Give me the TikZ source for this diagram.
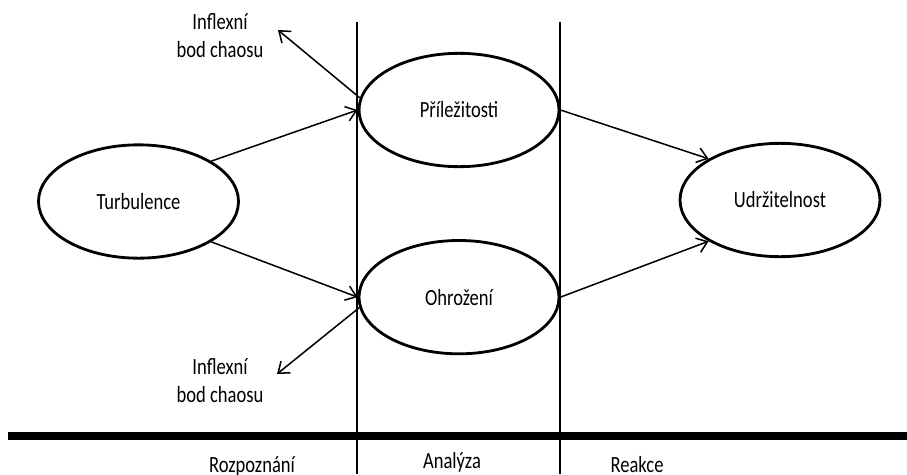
\documentclass[tikz,border=0pt]{standalone}
\usepackage{fontspec}
\setmainfont{Carlito}[FakeStretch=0.8]
\newcommand*{\diagfont}{\fontsize{19.8}{23.8}\selectfont}
\usetikzlibrary{arrows.meta, positioning, shapes.geometric}
\tikzstyle{state} = [draw, ellipse, line width=2.4pt, minimum width=6cm, minimum height=3.4cm, font=\diagfont]
\tikzstyle{note} = [align=center, inner sep=0pt, font=\diagfont]
\tikzstyle{phase} = [anchor=base, inner sep=0pt, font=\diagfont]
\tikzstyle{link} = [-{Straight Barb[length=3mm, width=4.5mm]}, line width=1.3pt]
\tikzstyle{divider} = [line width=2.5pt]
\tikzstyle{ground} = [line width=6.8pt]

\begin{document}
\begin{tikzpicture}[x=0.03cm, y=-0.03cm, node distance=2.13cm]
    \useasboundingbox (0, 0) rectangle (907, 474);

    % Dividers.
    \foreach \x in {357, 560} {%
        \draw [divider] (\x, 22) -- (\x, 474);
    }
    \draw [ground] (8, 436) -- (907, 436);

    % Nodes.
    \node (prilezitosti) [state] at (459, 110) {Příležitosti};
    \node (ohrozeni) [state, below=of prilezitosti] {Ohrožení};
    \node (turbulence) [state] at (138.5, 201.5) {Turbulence};
    \node (udrzitelnost) [state] at (780, 200) {Udržitelnost};

    % Notes.
    \node (chaos top) [note] at (220, 36) {Inflexní\\bod chaosu};
    \node (chaos bottom) [note] at (220, 381) {Inflexní\\bod chaosu};
    \coordinate (chaos top tip) at (278, 30);
    \coordinate (chaos bottom tip) at (277, 374);

    % Phases.
    \node (phase 1) [phase] at (252, 472) {Rozpoznání};
    \node (phase 2) [phase] at (452, 468) {Analýza};
    \node (phase 3) [phase] at (637, 472) {Reakce};

    % Arrows.
    \draw [link] (turbulence.29) -- (prilezitosti.west);
    \draw [link] (turbulence.-29) -- (ohrozeni.west);
    \draw [link] (prilezitosti.east) -- (udrzitelnost.150);
    \draw [link] (ohrozeni.east) -- (udrzitelnost.210);
    \draw [link] (prilezitosti.173) -- (chaos top tip);
    \draw [link] (ohrozeni.186) -- (chaos bottom tip);
\end{tikzpicture}
\end{document}
